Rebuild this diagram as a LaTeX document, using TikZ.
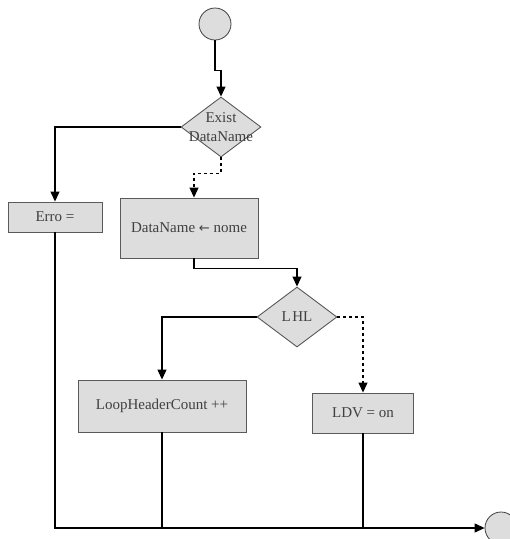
\documentclass[tikz,border=0pt]{standalone}
\usepackage{fontspec}
\setmainfont{Liberation Serif}
\newfontfamily\symfont{DejaVu Sans}
\usepackage{tikz}
\usetikzlibrary{shapes.geometric,arrows.meta}

\definecolor{boxfill}{HTML}{DDDDDD}
\definecolor{boxline}{HTML}{5A5A5A}
\definecolor{boxtext}{HTML}{404040}

\tikzset{
  box/.style={draw=boxline, fill=boxfill, text=boxtext, line width=0.9pt,
    font=\fontsize{15}{17}\selectfont, inner sep=0pt},
  decision/.style={diamond, draw=boxline, fill=boxfill, text=boxtext, line width=0.9pt,
    minimum width=80pt, minimum height=60pt, inner sep=0pt, aspect=1.33,
    font=\fontsize{15}{17}\selectfont},
  term/.style={circle, draw=black!75, fill=boxfill, line width=0.8pt, minimum size=32pt, inner sep=0pt},
  arr/.style={-{Triangle[length=10pt,width=9pt]}, line width=1.1pt},
  link/.style={line width=1.1pt}
}

\begin{document}
\begin{tikzpicture}[x=1pt,y=-1pt]
\useasboundingbox (0,0) rectangle (510,539);

% Inizio e fine
\node[term] (start) at (215,24) {};
\node[term] (stop) at (501,528) {};

% Decisioni
\node[decision, label={[text=boxtext, align=center, font=\fontsize{15}{19}\selectfont]center:Exist\\DataName}] (exist) at (221,127) {};
\node[decision] (lhl) at (297,317) {L\kern1.5pt HL};

% Blocchi
\node[box, minimum width=94pt, minimum height=30pt] (erro) at (55,217) {Erro =};
\node[box, minimum width=138pt, minimum height=60pt] (dname) at (189,228) {DataName {\symfont\fontsize{13}{15}\selectfont ←} nome};
\node[box, minimum width=168pt, minimum height=52pt] (loop) at (162,406) {LoopHeaderCount ++};
\node[box, minimum width=101pt, minimum height=40pt] (ldv) at (363,413) {LDV = on};

% Connessioni
\draw[arr] (start.south) -- ++(0,30) -| (exist.north);
\draw[arr] (exist.west) -| (erro.north);
\draw[arr, dashed] (exist.south) -- ++(0,16) -| ([xshift=5pt]dname.north);
\draw[arr] ([xshift=5pt]dname.south) -- ++(0,10) -| (lhl.north);
\draw[arr] (lhl.west) -| (loop.north);
\draw[arr, dashed] (lhl.east) -| (ldv.north);

% Ritorno verso la fine
\draw[arr] (erro.south) |- (stop.west);
\draw[link] (loop.south) -- (loop.south |- stop.west);
\draw[link] (ldv.south) -- (ldv.south |- stop.west);
\end{tikzpicture}
\end{document}
